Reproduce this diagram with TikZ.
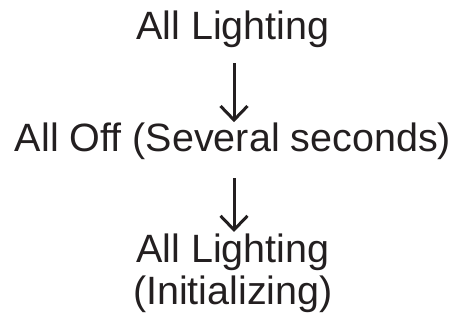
\documentclass[tikz,border=0pt]{standalone}
\usepackage{fontspec}
\setmainfont{Liberation Sans}
\usetikzlibrary{arrows.meta}
\definecolor{ink}{HTML}{231F20}
\begin{document}
\begin{tikzpicture}[x=1pt,y=1pt,
  lbl/.style={inner sep=0pt, text=ink, font=\fontsize{39.5}{42}\selectfont, align=center},
  arr/.style={draw=ink, line width=3pt, -{Straight Barb[length=14pt,width=27pt,line width=3pt]}}]
\useasboundingbox (0,0) rectangle (458,321);
\node[lbl, anchor=base] (top) at (233,281) {All Lighting};
\node[lbl, anchor=base] (mid) at (233,169) {All Off (Several seconds)};
\node[lbl, anchor=north] (bot) at (233,87) {All Lighting\\(Initializing)};
\draw[arr] ([xshift=1pt,yshift=-15pt]top.south) -- ([xshift=1pt,yshift=1pt]mid.north);
\draw[arr] ([xshift=1pt,yshift=-18pt]mid.south) -- ([xshift=1pt,yshift=2pt]bot.north);
\end{tikzpicture}
\end{document}
